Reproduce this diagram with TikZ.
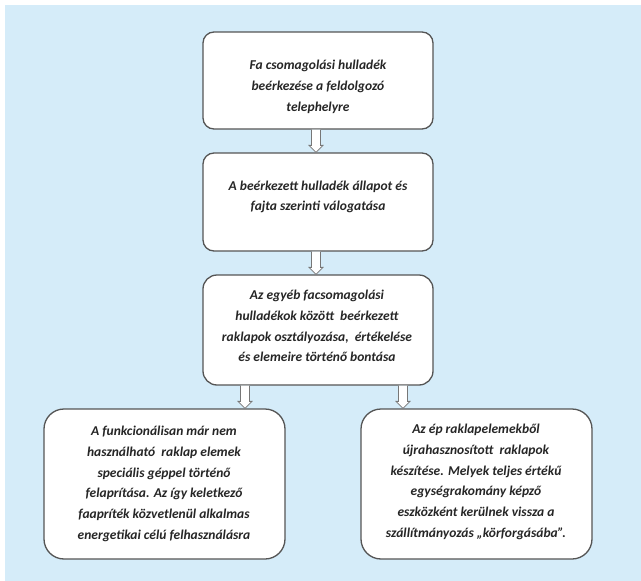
\documentclass[tikz,border=0pt]{standalone}
\usepackage{fontspec}
\setmainfont{Carlito}
\usetikzlibrary{calc}
\definecolor{bgblue}{RGB}{213,236,249}
\definecolor{boxline}{RGB}{85,85,85}
\tikzset{
  box/.style={draw=boxline, line width=1.3pt, fill=white, inner sep=0pt},
  txt/.style={align=center, inner sep=0pt, text=black!85,
    font=\fontsize{13.5}{20.7}\selectfont\bfseries\itshape},
  blockarrow/.style={draw=boxline!80, line width=0.8pt, fill=white, line join=miter}
}
\newcommand\hollowarrow[2]{%
  \draw[blockarrow] let \p1=(#1), \p2=(#2) in
    (\x1-4.5pt,\y1) -- (\x1-4.5pt,\y2+7pt) -- (\x1-7pt,\y2+7pt) -- (\x1,\y2)
    -- (\x1+7pt,\y2+7pt) -- (\x1+4.5pt,\y2+7pt) -- (\x1+4.5pt,\y1);}
\begin{document}
\begin{tikzpicture}[x=1pt,y=-1pt]
\useasboundingbox (0,0) rectangle (641,581);
\fill[bgblue] (5,5) rectangle (641,581);

\node[box, rounded corners=11pt, minimum width=230pt, minimum height=97pt] (b1) at (318,80.5) {};
\node[box, rounded corners=11pt, minimum width=230pt, minimum height=98pt] (b2) at (318,202) {};
\node[box, rounded corners=14pt, minimum width=230pt, minimum height=110pt] (b3) at (318,330) {};
\node[box, rounded corners=20pt, minimum width=241pt, minimum height=150pt] (b4) at (164.5,484) {};
\node[box, rounded corners=20pt, minimum width=231pt, minimum height=150pt] (b5) at (476.5,484) {};

\node[txt] (t1) at (318,87) {Fa csomagolási hulladék\\beérkezése a feldolgozó\\telephelyre};
\node[txt] (t2) at (318,197) {A beérkezett hulladék állapot és\\fajta szerinti válogatása};
\node[txt] (t3) at (317,326) {Az egyéb facsomagolási\\hulladékok között\ \ beérkezett\\raklapok osztályozása,\ \ értékelése\\és elemeire történő bontása};
\node[txt] (t4) at (164,484) {A funkcionálisan már nem\\használható\ \ raklap elemek\\speciális géppel történő\\felaprítása. Az így keletkező\\faapríték közvetlenül alkalmas\\energetikai célú felhasználásra};
\node[txt] (t5) at (476,482) {Az ép raklapelemekből\\újrahasznosított\ \ raklapok\\készítése. Melyek teljes értékű\\egységrakomány képző\\eszközként kerülnek vissza a\\szállítmányozás „körforgásába”.};

\hollowarrow{[xshift=-2pt]b1.south}{b2.north}
\hollowarrow{[xshift=-2pt]b2.south}{b3.north}
\hollowarrow{[xshift=-73pt]b3.south}{b4.north}
\hollowarrow{[xshift=85pt]b3.south}{b5.north}
\end{tikzpicture}
\end{document}
